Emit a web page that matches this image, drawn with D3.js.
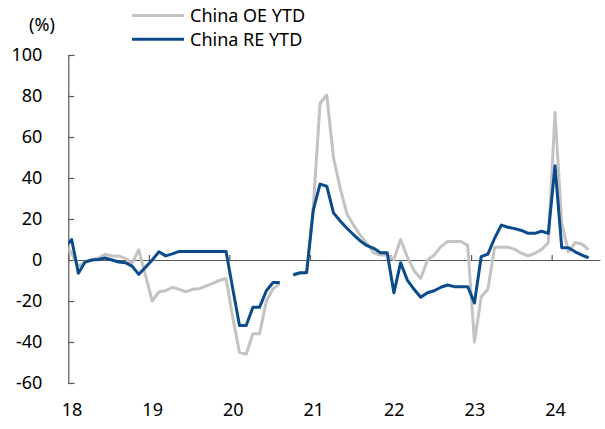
<!DOCTYPE html>
<html>
<head>
<meta charset="utf-8">
<script src="https://cdn.jsdelivr.net/npm/d3@7"></script>
<style>
  body { margin: 0; background: #fff; }
  svg text { font-family: "Noto Sans", "Open Sans", sans-serif; fill: #000; }
</style>
</head>
<body>
<svg id="chart" width="605" height="429"></svg>
<script>
// monthly points, Dec 2017 .. Jun 2024 (first one sits left of the axis and is clipped)
var startYear = 17, startMonth = 11;
var oeYtd = [8,
  3, -3, -1, 0, 1, 2.8, 2, 2, 0.8, -1.5, 5, -7.5,
  -20, -15.5, -15, -13.3, -14.3, -15.5, -14.3, -14, -12.7, -11.4, -10, -9,
  -28, -45, -46, -36, -36, -20, -14, -11.5, null, -7, -6.5, -6,
  26, 76.5, 80.5, 50, 35, 22.5, 17, 12, 8, 3.5, 2.4, 2.4,
  0.3, 10, 1.5, -5.2, -9, 0, 2.4, 6.5, 9, 9, 9, 7,
  -40, -18, -14.3, 6.2, 6.2, 6.2, 5.2, 3.3, 2, 3.3, 5.2, 8.5,
  72, 18, 4, 8.5, 7.8, 5];
var reYtd = [6,
  10, -6.5, -1, 0, 0.3, 1, 0, -1, -1.3, -3, -7, -3.5,
  0, 4, 2, 3, 4.2, 4.2, 4.2, 4.2, 4.2, 4.2, 4.2, 4.2,
  -14, -32, -32, -23, -23, -15, -11, -11, null, -7.3, -6.2, -6.2,
  24.5, 37, 36, 23, 19, 15.5, 12.3, 9.3, 7, 5.7, 3.5, 3.5,
  -16, -1.3, -9.8, -14.3, -18.2, -16, -15, -13.3, -12.2, -13, -13, -13,
  -21, 1.6, 2.9, 10.6, 17, 16, 15.3, 14.4, 13, 13, 14, 13,
  46, 6, 6, 4, 2.4, 1.1];
var yearTicks = [18, 19, 20, 21, 22, 23, 24];
var yTicks = [-60, -40, -20, 0, 20, 40, 60, 80, 100];
var seriesNames = ["China OE YTD", "China RE YTD"];
var seriesColors = ["#c3c3c3", "#0b4a8b"];

var svg = d3.select("#chart");
var x = d3.scaleLinear().domain([18, 24.6]).range([68.3, 600]);
var y = d3.scaleLinear().domain([-60, 100]).range([383, 55]);

function toPoints(vals) {
  return vals.map(function (v, i) {
    var m = startMonth + i;
    return { t: startYear + Math.floor(m / 12) + ((m % 12) + 0.5) / 12, v: v };
  });
}

svg.append("clipPath").attr("id", "plot")
  .append("rect").attr("x", 68.3).attr("y", 0).attr("width", 540).attr("height", 429);

// y axis, ticks pointing inward
var yAxis = svg.append("g")
  .attr("transform", "translate(68.3,0)")
  .call(d3.axisLeft(y).tickValues(yTicks)
    .tickSizeInner(-6).tickSizeOuter(-6).tickPadding(26)
    .tickFormat(function (d) { return String(d); }));
yAxis.selectAll("path, line").attr("stroke", "#595959").attr("stroke-width", 1.2);
yAxis.selectAll("text").attr("font-size", 18).attr("fill", "#000");

// zero line with year ticks
var zAxis = svg.append("g")
  .attr("transform", "translate(0," + y(0) + ")")
  .call(d3.axisTop(x).tickValues(yearTicks).tickSize(5).tickSizeOuter(0).tickFormat(""));
zAxis.selectAll("path, line").attr("stroke", "#595959").attr("stroke-width", 1.2);

// year labels below the plot
var xLab = svg.append("g")
  .attr("transform", "translate(3.3,403)")
  .call(d3.axisBottom(x).tickValues(yearTicks).tickSize(0).tickPadding(0)
    .tickFormat(function (d) { return String(d); }));
xLab.select(".domain").remove();
xLab.selectAll("text").attr("font-size", 18).attr("dy", "0.71em");

var line = d3.line()
  .defined(function (d) { return d.v !== null; })
  .x(function (d) { return x(d.t); })
  .y(function (d) { return y(d.v); });

[oeYtd, reYtd].forEach(function (vals, i) {
  svg.append("path")
    .datum(toPoints(vals))
    .attr("clip-path", "url(#plot)")
    .attr("fill", "none")
    .attr("stroke", seriesColors[i])
    .attr("stroke-width", 3)
    .attr("stroke-linejoin", "round")
    .attr("d", line);
});

svg.append("text")
  .attr("x", 42).attr("y", 25).attr("dy", "0.35em")
  .attr("text-anchor", "middle").attr("font-size", 18)
  .text("(%)");

var legend = svg.append("g").selectAll("g")
  .data(seriesNames)
  .enter().append("g")
  .attr("transform", function (d, i) { return "translate(0," + (15.5 + i * 23.8) + ")"; });
legend.append("line")
  .attr("x1", 132).attr("x2", 184)
  .attr("stroke", function (d, i) { return seriesColors[i]; })
  .attr("stroke-width", 3);
legend.append("text")
  .attr("x", 190).attr("dy", "0.35em")
  .attr("font-size", 18)
  .text(function (d) { return d; });
</script>
</body>
</html>
